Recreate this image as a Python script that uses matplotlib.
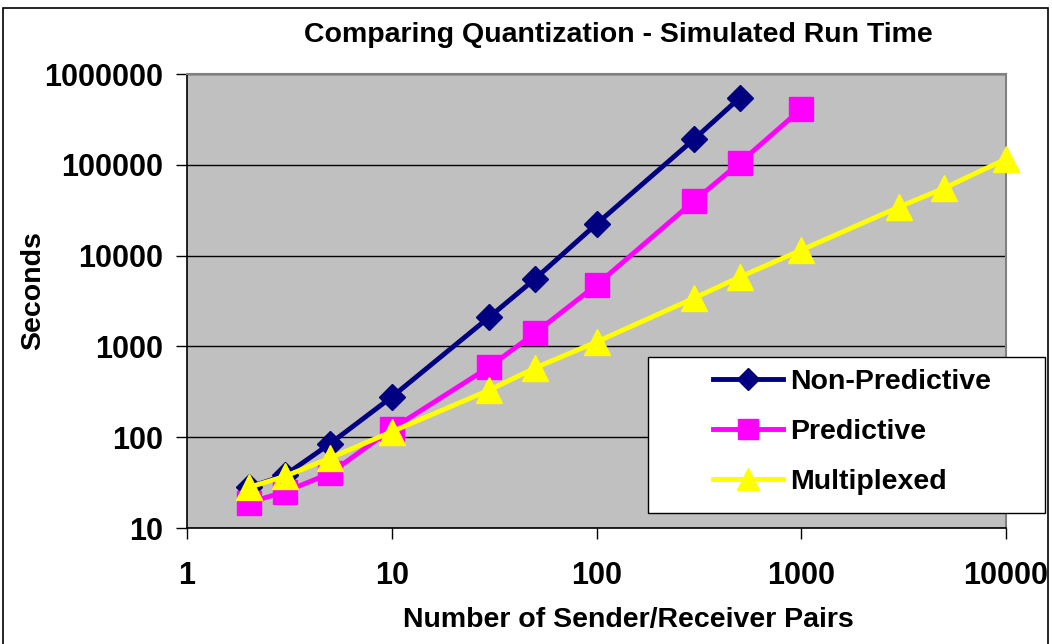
import matplotlib
matplotlib.use('Agg')
import matplotlib.pyplot as plt
from matplotlib.patches import Rectangle

plt.rcParams['font.family'] = ['Liberation Sans', 'DejaVu Sans']
plt.rcParams['font.weight'] = 'bold'

# Данные
x_nonpred = [2, 3, 5, 10, 30, 50, 100, 300, 500]
y_nonpred = [28, 38, 85, 277, 2110, 5520, 22300, 192000, 545000]

x_pred = [2, 3, 5, 10, 30, 50, 100, 300, 500, 1000]
y_pred = [19, 25, 40, 123, 595, 1400, 4750, 40000, 105000, 412000]

x_mux = [2, 3, 5, 10, 30, 50, 100, 300, 500, 1000, 3000, 5000, 10000]
y_mux = [28, 37, 59, 115, 331, 578, 1120, 3410, 5800, 11500, 34300, 55500, 116000]

labels = ['Non-Predictive', 'Predictive', 'Multiplexed']
x_ticks = [1, 10, 100, 1000, 10000]
y_ticks = [10, 100, 1000, 10000, 100000, 1000000]

W, H = 1052, 644
fig = plt.figure(figsize=(W / 100, H / 100), dpi=100)
ax = fig.add_axes([187 / W, 1 - 528 / H, (1006 - 187) / W, (528 - 74) / H])
ax.set_facecolor('#C0C0C0')

ax.plot(x_nonpred, y_nonpred, color='#000080', lw=3.5, marker='D', ms=13, label=labels[0],
        zorder=3, clip_on=False)
ax.plot(x_pred, y_pred, color='#FF00FF', lw=3.5, marker='s', ms=17, label=labels[1],
        zorder=4, clip_on=False)
ax.plot(x_mux, y_mux, color='#FFFF00', lw=3.5, marker='^', ms=19, label=labels[2],
        zorder=5, clip_on=False)

ax.set_xscale('log')
ax.set_yscale('log')
ax.set_xlim(1, 10000)
ax.set_ylim(10, 1000000)
ax.set_xticks(x_ticks)
ax.set_xticklabels([str(v) for v in x_ticks])
ax.set_yticks(y_ticks)
ax.set_yticklabels([str(v) for v in y_ticks])
ax.minorticks_off()
ax.tick_params(axis='both', direction='out', length=8, width=1, labelsize=22, color='black')
ax.tick_params(axis='x', pad=16)
ax.tick_params(axis='y', pad=9)
ax.grid(axis='y', color='black', lw=1)
ax.set_axisbelow(True)

for s in ['top', 'right']:
    ax.spines[s].set_color('#808080')
    ax.spines[s].set_linewidth(1.5)
for s in ['left', 'bottom']:
    ax.spines[s].set_color('black')
    ax.spines[s].set_linewidth(1.2)

ax.set_xlabel('Number of Sender/Receiver Pairs', fontsize=20.5, fontweight='bold')
ax.set_ylabel('Seconds', fontsize=20.5, fontweight='bold')
ax.xaxis.set_label_coords((628 - 187) / 819, (528 - 620) / 454)
ax.yaxis.set_label_coords((33 - 187) / 819, (528 - 291) / 454)
ax.xaxis.label.set_va('center')
ax.yaxis.label.set_va('center')

fig.text(618 / W, 1 - 35 / H, 'Comparing Quantization - Simulated Run Time',
         fontsize=20.5, fontweight='bold', ha='center', va='center')

# рамка легенды рисуется отдельно, чтобы получить отступ слева как в оригинале
fig.patches.append(Rectangle((648 / W, 1 - 513 / H), 397 / W, 156 / H, transform=fig.transFigure,
                             facecolor='white', edgecolor='black', lw=1, zorder=4))
leg = fig.legend(loc='center left', bbox_to_anchor=(713 / W, 1 - 432 / H), fontsize=20.5,
                 frameon=False, handlelength=2.45, handletextpad=0.25, labelspacing=0.85,
                 borderpad=0, borderaxespad=0, markerscale=0.83)

fig.patches.append(Rectangle((3 / W, -0.01), 1045 / W, 1 - 8 / H + 0.01,
                             transform=fig.transFigure, fill=False, edgecolor='black', lw=1.2))

fig.savefig('out.png', dpi=100)
